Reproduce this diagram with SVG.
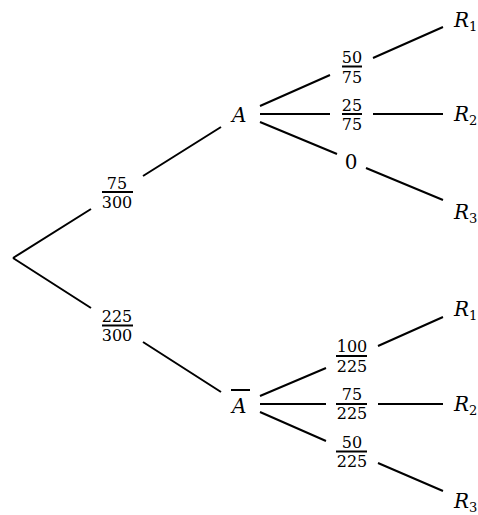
<svg xmlns="http://www.w3.org/2000/svg" width="478" height="515" viewBox="0 0 478 515">
<style>
.e{stroke:#000;stroke-width:2;fill:none;stroke-linecap:butt}
.n{font-family:"DejaVu Serif","Liberation Serif",serif;font-size:16px;text-anchor:middle;fill:#000}
.z{font-size:20px}
.v{font-family:"DejaVu Serif","Liberation Serif",serif;font-size:20px;font-style:italic;fill:#000}
.s{font-size:13px;font-style:normal}
.b{stroke:#000;stroke-width:2}
</style>
<rect width="478" height="515" fill="#fff"/>
<g id="connectors">
<path class="e" d="M13,258 L91,209 M143,176 L221,127"/>
<path class="e" d="M13,258 L91,308 M143,342 L221,392"/>
<path class="e" d="M260,106 L330,75 M373,58 L443,27"/>
<path class="e" d="M260,114 L330,114 M373,114 L443,114"/>
<path class="e" d="M260,122 L337,154 M366,168 L443,200"/>
<path class="e" d="M260,396 L326,368 M378,346 L443,317"/>
<path class="e" d="M260,404 L326,404 M378,404 L443,404"/>
<path class="e" d="M260,412 L326,441 M378,463 L443,491"/>
</g>
<g id="p-A">
<text class="n" x="117" y="189">75</text><line class="b" x1="102" y1="192" x2="133" y2="192"/><text class="n" x="117" y="208">300</text>
</g>
<g id="p-Abar">
<text class="n" x="117" y="322">225</text><line class="b" x1="102" y1="325.5" x2="133" y2="325.5"/><text class="n" x="117" y="341">300</text>
</g>
<g id="A"><text class="v" x="232" y="122">A</text></g>
<g id="Abar"><line class="b" x1="231" y1="390" x2="250" y2="390"/><text class="v" x="232" y="413">A</text></g>
<g id="p-A-R1"><text class="n" x="352" y="63">50</text><line class="b" x1="342" y1="66.5" x2="362" y2="66.5"/><text class="n" x="352" y="83">75</text></g>
<g id="p-A-R2"><text class="n" x="352" y="111">25</text><line class="b" x1="342" y1="114" x2="362" y2="114"/><text class="n" x="352" y="130">75</text></g>
<g id="p-A-R3"><text class="n z" x="351" y="169">0</text></g>
<g id="p-Abar-R1"><text class="n" x="352" y="352">100</text><line class="b" x1="336" y1="356" x2="367" y2="356"/><text class="n" x="352" y="372">225</text></g>
<g id="p-Abar-R2"><text class="n" x="352" y="400">75</text><line class="b" x1="336" y1="404" x2="367" y2="404"/><text class="n" x="352" y="419">225</text></g>
<g id="p-Abar-R3"><text class="n" x="352" y="448">50</text><line class="b" x1="336" y1="451.5" x2="367" y2="451.5"/><text class="n" x="352" y="467">225</text></g>
<g id="R1a"><text class="v" x="454" y="27">R<tspan class="s" dy="4">1</tspan></text></g>
<g id="R2a"><text class="v" x="454" y="121">R<tspan class="s" dy="4">2</tspan></text></g>
<g id="R3a"><text class="v" x="454" y="219">R<tspan class="s" dy="4">3</tspan></text></g>
<g id="R1b"><text class="v" x="454" y="316">R<tspan class="s" dy="4">1</tspan></text></g>
<g id="R2b"><text class="v" x="454" y="411">R<tspan class="s" dy="4">2</tspan></text></g>
<g id="R3b"><text class="v" x="454" y="508">R<tspan class="s" dy="4">3</tspan></text></g>
</svg>
